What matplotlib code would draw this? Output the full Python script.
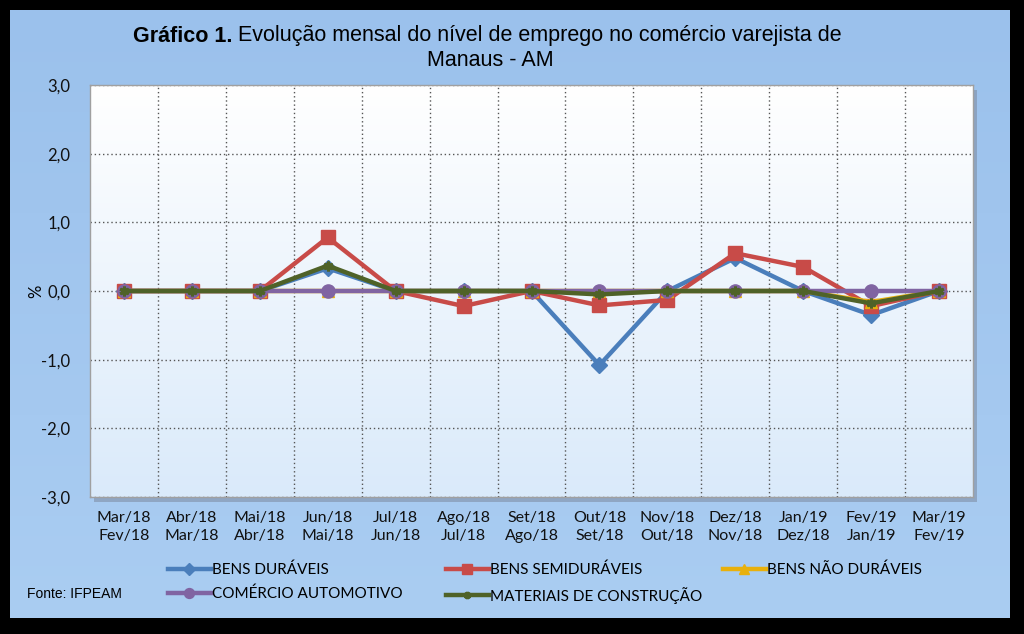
import numpy as np
import matplotlib
matplotlib.use("Agg")
import matplotlib.pyplot as plt
from matplotlib.patches import Rectangle

periods_top = ["Mar/18", "Abr/18", "Mai/18", "Jun/18", "Jul/18", "Ago/18", "Set/18",
               "Out/18", "Nov/18", "Dez/18", "Jan/19", "Fev/19", "Mar/19"]
periods_bottom = ["Fev/18", "Mar/18", "Abr/18", "Mai/18", "Jun/18", "Jul/18", "Ago/18",
                  "Set/18", "Out/18", "Nov/18", "Dez/18", "Jan/19", "Fev/19"]

bens_duraveis = [0, 0, 0, 0.33, 0, 0, 0, -1.08, 0, 0.48, 0, -0.35, 0]
bens_semiduraveis = [0, 0, 0, 0.78, 0, -0.22, 0, -0.21, -0.13, 0.55, 0.35, -0.22, 0]
bens_nao_duraveis = [0, 0, 0, 0, 0, 0, 0, 0, 0, 0, 0, -0.16, 0]
comercio_automotivo = [0, 0, 0, 0, 0, 0, 0, 0, 0, 0, 0, 0, 0]
materiais_construcao = [0, 0, 0, 0.37, 0, 0, 0, -0.05, 0, 0, 0, -0.18, 0]

series = [
    ("BENS DURÁVEIS", bens_duraveis, "#4A7EBB", "D", 8),
    ("BENS SEMIDURÁVEIS", bens_semiduraveis, "#C84B48", "s", 9.5),
    ("BENS NÃO DURÁVEIS", bens_nao_duraveis, "#E8B00C", "^", 9),
    ("COMÉRCIO AUTOMOTIVO", comercio_automotivo, "#8064A2", "o", 9.5),
    ("MATERIAIS DE CONSTRUÇÃO", materiais_construcao, "#4F6228", "x", 7),
]

W, H = 1024, 634
fig = plt.figure(figsize=(W / 100, H / 100), dpi=100, facecolor="black")

# background panel with gradient
bg = fig.add_axes([10 / W, 1 - 618 / H, 1000 / W, 608 / H])
bg.set_axis_off()
grad = np.linspace(0, 1, 256).reshape(-1, 1)
top_c = np.array([155, 193, 236]) / 255
bot_c = np.array([170, 205, 242]) / 255
img = (top_c + (bot_c - top_c) * grad[..., None]).reshape(256, 1, 3)
bg.imshow(img, aspect="auto", extent=[0, 1, 0, 1], origin="upper")
bg.set_xlim(0, 1)
bg.set_ylim(0, 1)

# plot area
L, R, T, B = 90, 973, 85, 497
fig.patches.append(Rectangle(((L + 4) / W, 1 - (B + 5) / H), (R - L) / W, (B - T) / H,
                             transform=fig.transFigure, facecolor="#7F8FA6", alpha=0.6,
                             edgecolor="none", zorder=0.5))
ax = fig.add_axes([L / W, 1 - B / H, (R - L) / W, (B - T) / H])
ax.set_zorder(2)
pa_top = np.array([255, 255, 255]) / 255
pa_bot = np.array([218, 234, 250]) / 255
img2 = (pa_top + (pa_bot - pa_top) * grad[..., None]).reshape(256, 1, 3)
ax.imshow(img2, aspect="auto", extent=[-0.5, 12.5, -3, 3], origin="upper", zorder=0)

x = np.arange(len(periods_top))
for name, vals, col, mk, ms in series:
    if mk == "x":
        ax.plot(x, vals, color=col, lw=3.2, marker=(6, 2, 0), ms=ms, mew=2.2,
                mec=col, label=name, zorder=5, solid_joinstyle="round")
    else:
        ax.plot(x, vals, color=col, lw=3.2, marker=mk, ms=ms, mec=col, mfc=col,
                label=name, zorder=4, solid_joinstyle="round")

ax.set_xlim(-0.5, 12.5)
ax.set_ylim(-3, 3)
yt = np.arange(-3, 3.1, 1)
ax.set_yticks(yt)
ax.set_yticklabels([f"{v:.1f}".replace(".", ",") for v in yt])
ax.set_xticks(x)
ax.set_xticklabels([f"{a}\n{b}" for a, b in zip(periods_top, periods_bottom)],
                   linespacing=1.35)
ax.set_xticks(np.arange(0.5, 12, 1), minor=True)
ax.tick_params(axis="both", which="both", length=0)
ax.tick_params(axis="x", pad=10, labelsize=11.5, labelcolor="#111111")
ax.tick_params(axis="y", pad=14, labelsize=12, labelcolor="#111111")
for lab in ax.get_xticklabels() + ax.get_yticklabels():
    lab.set_family(["Lato", "DejaVu Sans"])
ax.grid(axis="y", which="major", color="#555555", ls=(0, (1, 2)), lw=1)
ax.grid(axis="x", which="minor", color="#555555", ls=(0, (1, 2)), lw=1)
ax.grid(axis="x", which="major", visible=False)
for s in ax.spines.values():
    s.set_color("#A0A0A0")
    s.set_linewidth(1)
ax.set_ylabel("%", fontsize=12, labelpad=-2, family=["Lato", "DejaVu Sans"])

# title
tfont = ["Liberation Sans", "DejaVu Sans"]
fig.canvas.draw()
r = fig.canvas.get_renderer()
t1 = fig.text(133 / W, 1 - 36 / H, "Gráfico 1.", fontsize=15.5, fontweight="bold",
              family=tfont, ha="left", va="center")
ext = t1.get_window_extent(renderer=r)
fig.text(ext.x1 / W + 5 / W, 1 - 36 / H, "Evolução mensal do nível de emprego no comércio varejista de",
         fontsize=15.5, family=tfont, ha="left", va="center")
fig.text(490 / W, 1 - 61 / H, "Manaus - AM", fontsize=15.5, family=tfont,
         ha="center", va="center")

# legend
handles, labels = ax.get_legend_handles_labels()
lfont = {"family": ["Lato", "DejaVu Sans"], "size": 11}
cols = [([0, 3], 168), ([1, 4], 446), ([2], 723)]
for idx, xpos in cols:
    fig.legend([handles[i] for i in idx], [labels[i] for i in idx],
               loc="upper left", bbox_to_anchor=(xpos / W, 1 - 563 / H),
               frameon=False, prop=lfont, handlelength=2.8, handletextpad=0.1,
               labelspacing=0.6, borderaxespad=0, borderpad=0, markerscale=0.75)

fig.text(27 / W, 1 - 594 / H, "Fonte: IFPEAM", fontsize=10, family=tfont,
         ha="left", va="center")

fig.savefig("out.png", dpi=100, facecolor="black")
